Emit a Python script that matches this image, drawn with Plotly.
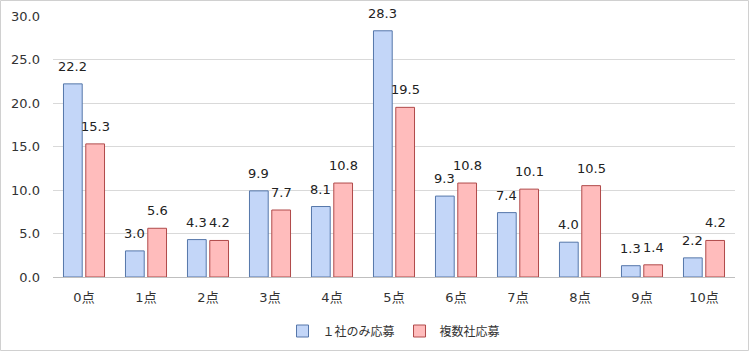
import plotly.graph_objects as go

categories = ["0点", "1点", "2点", "3点", "4点", "5点", "6点", "7点", "8点", "9点", "10点"]
single = [22.2, 3.0, 4.3, 9.9, 8.1, 28.3, 9.3, 7.4, 4.0, 1.3, 2.2]
multiple = [15.3, 5.6, 4.2, 7.7, 10.8, 19.5, 10.8, 10.1, 10.5, 1.4, 4.2]
series_names = ["１社のみ応募", "複数社応募"]
yticks = [0, 5, 10, 15, 20, 25, 30]

FONT = "DejaVu Sans, Noto Sans CJK JP, sans-serif"

fig = go.Figure()
fig.add_trace(go.Bar(
    x=categories, y=single, name=series_names[0],
    marker=dict(color="#c3d6f8", line=dict(color="#5677aa", width=1)),
))
fig.add_trace(go.Bar(
    x=categories, y=multiple, name=series_names[1],
    marker=dict(color="#ffbcbc", line=dict(color="#b04a4a", width=1)),
))

W, H = 750, 352
l, r, t, b = 53, 15, 16, 75
pw, ph = W - l - r, H - t - b
bargap, groupgap = 0.28, 0.16
slot = pw / len(categories) * (1 - bargap) / 2

annotations = []
for series, sign in ((single, -1), (multiple, 1)):
    for c, v in zip(categories, series):
        annotations.append(dict(
            x=c, y=v, xref="x", yref="y", text=f"{v:.1f}", showarrow=False,
            xanchor="center", yanchor="bottom", xshift=sign * slot / 2, yshift=8,
            font=dict(size=13, color="#222222", family=FONT),
        ))

fig.update_layout(
    width=W, height=H,
    margin=dict(l=l, r=r, t=t, b=b, autoexpand=False),
    paper_bgcolor="white", plot_bgcolor="white",
    barmode="group", bargap=bargap, bargroupgap=groupgap,
    font=dict(family=FONT, size=13, color="#333333"),
    showlegend=True,
    legend=dict(orientation="h", x=0.5, xanchor="center", y=(277 - 331) / ph,
                yanchor="middle", font=dict(size=12, color="#333333"),
                itemwidth=30, traceorder="normal"),
    xaxis=dict(showline=True, linecolor="#bfbfbf", linewidth=1, ticks="",
               automargin=False, ticklabelstandoff=8,
               tickfont=dict(size=13, color="#333333"), fixedrange=True),
    yaxis=dict(range=[0, 30], tickvals=yticks, tickformat=".1f",
               automargin=False,
               showgrid=True, gridcolor="#d9d9d9", gridwidth=1,
               zeroline=False, showline=False, ticks="",
               tickfont=dict(size=13, color="#333333"), ticklabelstandoff=12),
    annotations=annotations,
    shapes=[dict(type="rect", xref="paper", yref="paper",
                 x0=-(l - 0.5) / pw, x1=1 + (r - 1.5) / pw,
                 y0=-(b - 1.5) / ph, y1=1 + (t - 0.5) / ph,
                 line=dict(color="#d0d0d0", width=1), fillcolor="rgba(0,0,0,0)",
                 layer="below")],
)

fig.write_html("out.html")
